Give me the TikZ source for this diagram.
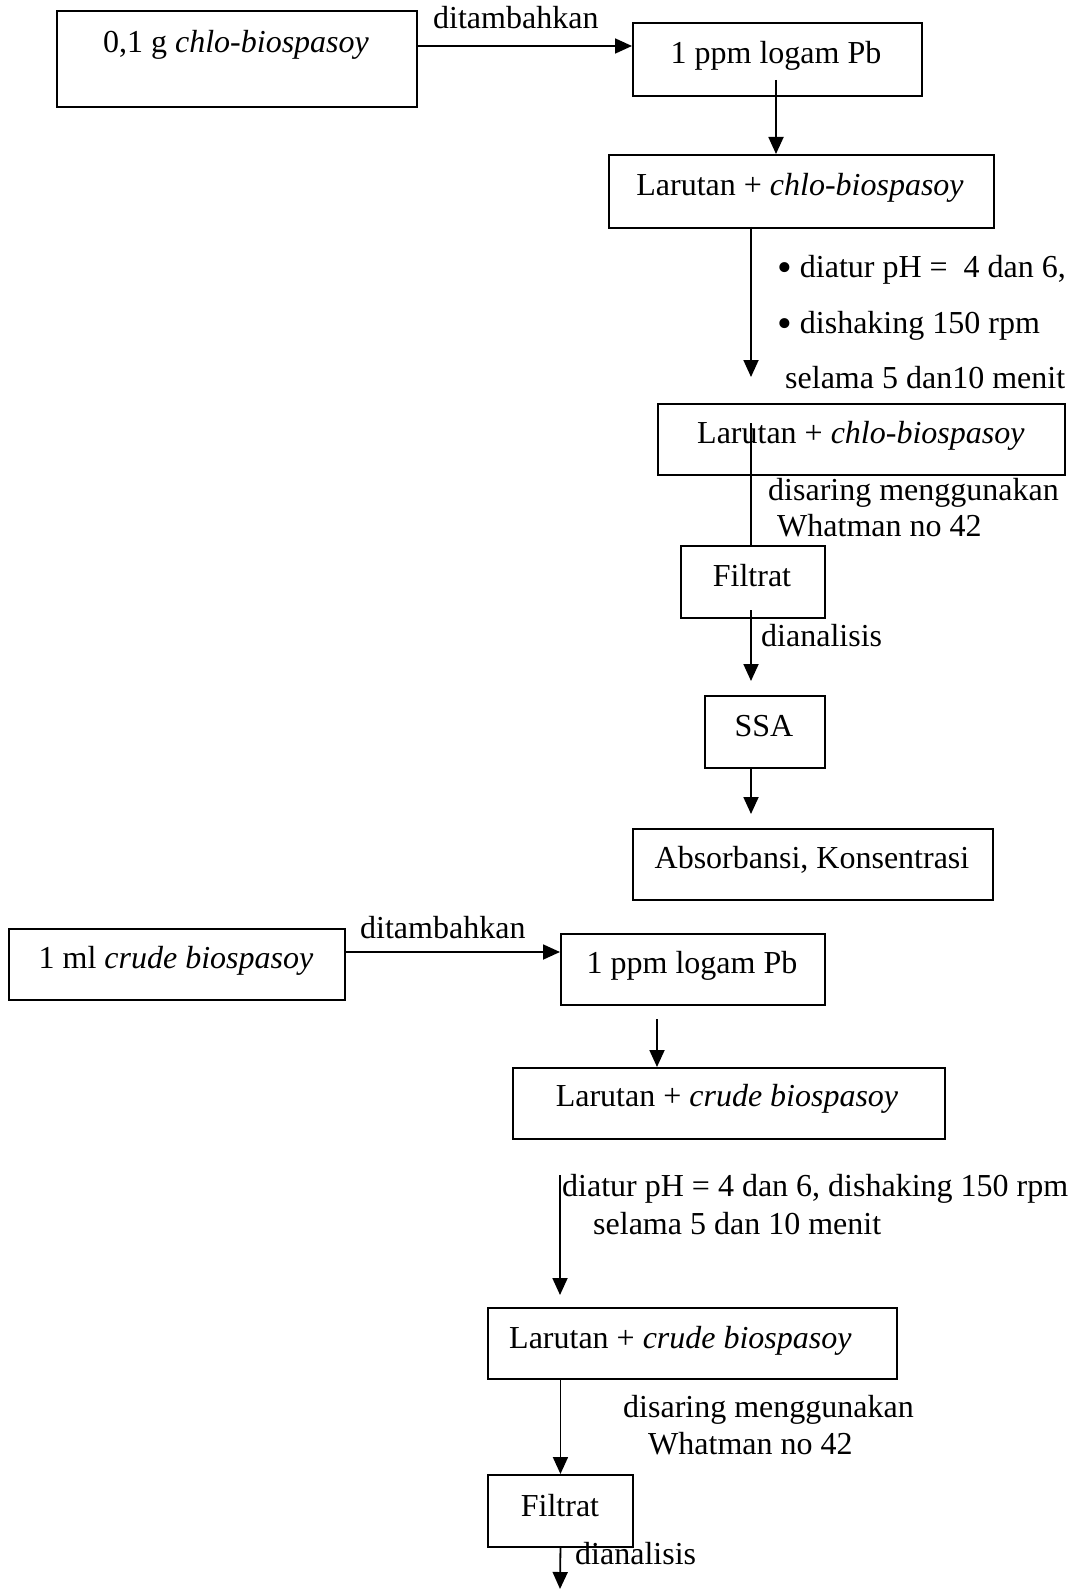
\documentclass[tikz,border=0pt]{standalone}
\usepackage{fontspec}
\setmainfont{Liberation Serif}
\usetikzlibrary{arrows.meta}
\newcommand{\bigdot}{{\fontsize{42}{38}\selectfont\raisebox{-4pt}{\textbullet}}}
\tikzset{
  box/.style={draw, line width=1.9pt, rectangle, inner sep=0pt, anchor=north west},
  txt/.style={inner sep=0pt, font=\fontsize{32}{38}\selectfont},
  arr/.style={line width=1.8pt, -{Triangle[length=17pt,width=15pt]}},
  plain/.style={line width=1.8pt}
}
\begin{document}
\begin{tikzpicture}[x=1pt,y=-1pt]
\useasboundingbox (0,0) rectangle (1076,1589);

% ---------- chlo-biospasoy branch ----------
\node[box, minimum width=360, minimum height=96] (b1) at (56,10) {};
\node[txt, anchor=base] (t1) at (236,53) {0,1 g \textit{chlo-biospasoy}};
\node[box, minimum width=289, minimum height=73] (b2) at (632,22) {};
\node[txt, anchor=base] (t2) at (776,64) {1 ppm logam Pb};
\node[txt, anchor=base west] (l1) at (433,29) {ditambahkan};
\draw[arr] (b1.north east) ++(0,36) coordinate (a1) -- (a1 -| b2.west);

\node[box, minimum width=385, minimum height=73] (b3) at (608,154) {};
\node[txt, anchor=base] (t3) at (800,196) {Larutan + \textit{chlo-biospasoy}};
\coordinate (s2) at (776,80);
\draw[arr] (s2) -- (s2 |- b3.north);

\node[box, minimum width=407, minimum height=71] (b4) at (657,403) {};
\node[txt, anchor=base west] (t4) at (697,443) {Larutan + \textit{chlo-biospasoy}};
\coordinate (s3) at (751,227);
\coordinate (e3) at (751,377);
\draw[arr] (s3) -- (e3);
\node[txt, anchor=base west] (l2) at (777,277) {\bigdot{} diatur pH =\ \ 4 dan 6,};
\node[txt, anchor=base west] (l3) at (777,333) {\bigdot{} dishaking 150 rpm};
\node[txt, anchor=base west] (l4) at (785,388) {selama 5 dan10 menit};

\node[box, minimum width=144, minimum height=72] (b5) at (680,545) {};
\node[txt, anchor=base] (t5) at (752,586) {Filtrat};
\coordinate (s4) at (751,423);
\draw[plain] (s4) -- (s4 |- b5.north);
\node[txt, anchor=base west] (l5) at (768,500) {disaring menggunakan};
\node[txt, anchor=base west] (l6) at (777,536) {Whatman no 42};

\node[box, minimum width=120, minimum height=72] (b6) at (704,695) {};
\node[txt, anchor=base] (t6) at (764,736) {SSA};
\coordinate (s5) at (751,610);
\draw[arr] (s5) -- (751,681);
\node[txt, anchor=base west] (l7) at (761,646) {dianalisis};

\node[box, minimum width=360, minimum height=71] (b7) at (632,828) {};
\node[txt, anchor=base] (t7) at (812,868) {Absorbansi, Konsentrasi};
\coordinate (s6) at (751,767);
\draw[arr] (s6) -- (751,814);

% ---------- crude biospasoy branch ----------
\node[box, minimum width=336, minimum height=71] (c1) at (8,928) {};
\node[txt, anchor=base] (u1) at (176,968) {1 ml \textit{crude biospasoy}};
\node[box, minimum width=264, minimum height=71] (c2) at (560,933) {};
\node[txt, anchor=base] (u2) at (692,973) {1 ppm logam Pb};
\node[txt, anchor=base west] (m1) at (360,938) {ditambahkan};
\coordinate (a8) at (344,952);
\draw[arr] (a8) -- (a8 -| c2.west);

\node[box, minimum width=432, minimum height=71] (c3) at (512,1067) {};
\node[txt, anchor=base] (u3) at (727,1106) {Larutan + \textit{crude biospasoy}};
\coordinate (s9) at (657,1019);
\draw[arr] (s9) -- (s9 |- c3.north);

\node[box, minimum width=409, minimum height=71] (c4) at (487,1307) {};
\node[txt, anchor=base west] (u4) at (509,1348) {Larutan + \textit{crude biospasoy}};
\coordinate (s10) at (560,1175);
\draw[arr] (s10) -- (560,1295);
\node[txt, anchor=base west] (m2) at (562,1196) {diatur pH = 4 dan 6, dishaking 150 rpm};
\node[txt, anchor=base west] (m3) at (593,1234) {selama 5 dan 10 menit};

\node[box, minimum width=145, minimum height=72] (c5) at (487,1474) {};
\node[txt, anchor=base] (u5) at (560,1516) {Filtrat};
\draw[arr] (c4.south -| c5.north) coordinate (s11) -- (c5.north);
\node[txt, anchor=base west] (m4) at (623,1417) {disaring menggunakan};
\node[txt, anchor=base west] (m5) at (648,1454) {Whatman no 42};

\coordinate (e12) at (560,1589);
\draw[arr] (c5.south) -- (e12);
\node[txt, anchor=base west] (m6) at (575,1564) {dianalisis};
\end{tikzpicture}
\end{document}
